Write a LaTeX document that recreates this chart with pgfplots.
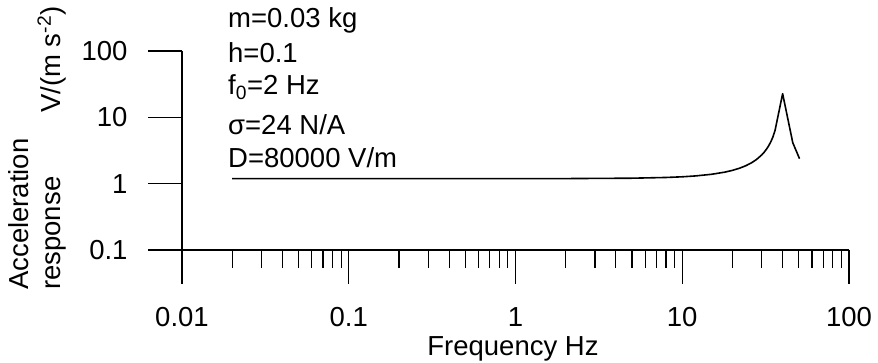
\documentclass[border=0pt]{standalone}
\usepackage{fontspec}
\setmainfont{Liberation Sans}
\usepackage{pgfplots}
\pgfplotsset{compat=1.18}
\newcommand\cf{\fontsize{27.5}{33}\selectfont}

\begin{document}
\begin{tikzpicture}
\useasboundingbox (0pt,0pt) rectangle (878pt,-363pt);
\begin{axis}[
  at={(182pt,-250pt)}, anchor=south west,
  scale only axis, width=667pt, height=199pt,
  xmode=log, ymode=log,
  xmin=0.01, xmax=100, ymin=0.1, ymax=100,
  axis lines=left,
  axis line style={-, line width=1.2pt},
  tick align=outside,
  xtick={0.01,0.1,1,10,100},
  xticklabels={0.01,0.1,1,10,100},
  minor xtick={0.02,0.03,0.04,0.05,0.06,0.07,0.08,0.09,
               0.2,0.3,0.4,0.5,0.6,0.7,0.8,0.9,
               2,3,4,5,6,7,8,9,
               20,30,40,50,60,70,80,90},
  ytick={0.1,1,10,100},
  yticklabels={0.1,1,10,100},
  yminorticks=false,
  major tick length=34pt, minor tick length=18pt,
  tick style={black, line width=1.2pt},
  ticklabel style={font=\cf},
  xticklabel style={yshift=-20pt},
  yticklabel style={xshift=-17pt},
  clip=false,
]
\addplot[black, line width=1.6pt, line join=round] coordinates {
  (0.02,1.19) (0.05,1.19) (0.1,1.19) (0.3,1.19) (1,1.19) (2,1.193)
  (5,1.209) (8,1.240) (10,1.269) (12,1.308) (15,1.385) (18,1.492)
  (20,1.587) (22,1.706) (24,1.859) (26,2.061) (28,2.333) (30,2.72)
  (31,2.98) (32,3.31) (33,3.73) (34,4.29) (35,5.08) (36,6.3)
  (40,22.7) (46,4.15) (50.5,2.38)
};
\end{axis}
% parameter annotations
\node[anchor=base west, inner sep=0pt, font=\cf] at (228pt,-28pt) {m=0.03 kg};
\node[anchor=base west, inner sep=0pt, font=\cf] at (228pt,-63pt) {h=0.1};
\node[anchor=base west, inner sep=0pt, font=\cf] at (228pt,-95pt) {f\textsubscript{0}=2 Hz};
\node[anchor=base west, inner sep=0pt, font=\cf] at (228pt,-135pt) {σ=24 N/A};
\node[anchor=base west, inner sep=0pt, font=\cf] at (228pt,-168pt) {D=80000 V/m};
% axis titles
\node[anchor=base west, inner sep=0pt, rotate=90, font=\cf] at (28pt,-290pt) {Acceleration};
\node[anchor=base west, inner sep=0pt, rotate=90, font=\cf] at (60pt,-290pt) {response};
\node[anchor=base west, inner sep=0pt, rotate=90, font=\cf] at (60pt,-113pt) {V/(m s\textsuperscript{-2})};
\node[anchor=base, inner sep=0pt, font=\cf] at (513pt,-355pt) {Frequency Hz};
\end{tikzpicture}
\end{document}
